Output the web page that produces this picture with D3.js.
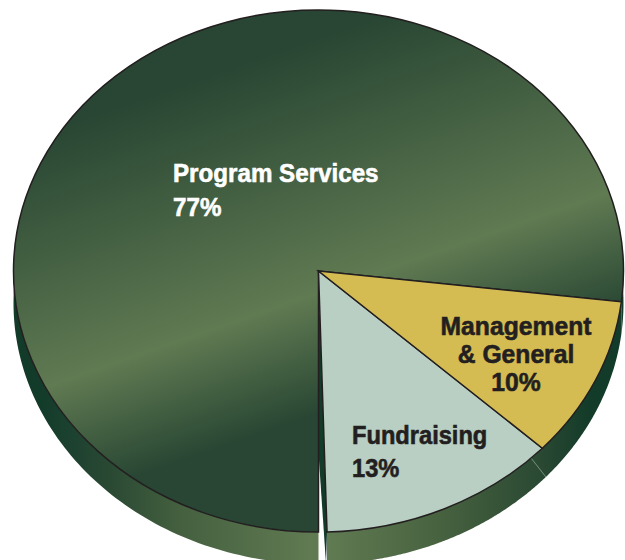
<!DOCTYPE html>
<html>
<head>
<meta charset="utf-8">
<script src="https://cdnjs.cloudflare.com/ajax/libs/d3/7.8.5/d3.min.js"></script>
<style>
html,body{margin:0;padding:0;background:#fff;overflow:hidden}
text{font-family:"Liberation Sans",Arimo,sans-serif;font-weight:700;font-size:26px}
</style>
</head>
<body>
<svg id="chart" width="625" height="560"></svg>
<script>
// Expense shares, listed clockwise starting from the right-hand side of the pie
const categories = ["Management & General", "Fundraising", "Program Services"];
const shares = [10, 13, 77];
const sliceFills = ["#d4bb52", "#b9cfc3", "url(#topSheenLocal)"];
const labelLines = [["Management", "& General", "10%"], ["Fundraising", "13%"], ["Program Services", "77%"]];
const labelColors = ["#231f20", "#231f20", "#ffffff"];
const labelAnchors = ["middle", "start", "start"];
const labelSpots = [[516, 335], [352, 444], [173, 182]];
const lineGap = [28, 33, 34];
const labelSqueeze = [0.95, 0.91, 0.93];

const cx = 318.5, cy = 271, rx = 305, ry = 261, depth = 32;
const deg = Math.PI / 180;
const firstAngle = 96.8 * deg;

const svg = d3.select("#chart");
const defs = svg.append("defs");

// Diagonal sheen across the large slice
const darkGreen = "#284633", lightGreen = "#607a52";
defs.append("linearGradient").attr("id", "topSheen").attr("gradientUnits", "userSpaceOnUse")
  .attr("x1", 45).attr("y1", 132).attr("x2", 161).attr("y2", 468)
  .selectAll("stop").data([[0, darkGreen], [0.68, lightGreen], [1, darkGreen]]).join("stop")
  .attr("offset", d => d[0]).attr("stop-color", d => d[1]);
defs.append("linearGradient").attr("id", "topSheenLocal").attr("href", "#topSheen")
  .attr("gradientTransform", `scale(${1 / rx},${1 / ry}) translate(${-cx},${-cy})`);

// Horizontal shading around the rim
defs.append("linearGradient").attr("id", "wallSheen")
  .attr("gradientUnits", "userSpaceOnUse").attr("x1", -cx).attr("y1", 0).attr("x2", 625 - cx).attr("y2", 0)
  .selectAll("stop")
  .data([[40, "#133b29"], [70, "#1c4130"], [110, "#2a4933"], [180, "#44603f"], [310, "#607a52"],
    [328, "#607a52"], [440, "#47623f"], [540, "#2a4933"], [590, "#133b29"], [625, "#133b29"]])
  .join("stop")
  .attr("offset", d => d[0] / 625).attr("stop-color", d => d[1]);

const pie = d3.pie().sort(null).startAngle(firstAngle).endAngle(firstAngle + 2 * Math.PI);
const slices = pie(shares);
// The Fundraising wedge is pulled apart from Program Services by a thin gap
slices[1].endAngle -= 1.2 * deg;
slices[2].startAngle += 0.4 * deg;

const rimX = a => rx * Math.sin(a), rimY = a => -ry * Math.cos(a);
const arc = d3.arc().innerRadius(0).outerRadius(1);
const plate = svg.append("g").attr("transform", `translate(${cx},${cy})`);

// Side walls sampled along the outer edge; the two small slices share one unbroken wall
const wallPath = d3.line();
[[slices[0].startAngle, slices[1].endAngle], [slices[2].startAngle, slices[2].endAngle]].forEach(([a0, a1]) => {
  const angles = d3.range(0, 241).map(i => a0 + (a1 - a0) * i / 240);
  const pts = angles.map(a => [rimX(a), rimY(a)])
    .concat(angles.slice().reverse().map(a => [rimX(a), rimY(a) + depth]));
  plate.append("path").attr("d", wallPath(pts) + "Z").attr("fill", "url(#wallSheen)");
});

// Inner face seen through the gap beside the Fundraising wedge
const gapAngle = slices[1].endAngle;
plate.append("path")
  .attr("d", wallPath([[0, 0], [rimX(gapAngle), rimY(gapAngle)],
    [rimX(gapAngle) - 1, rimY(gapAngle) + depth], [rimX(slices[2].startAngle), 182]]) + "Z")
  .attr("fill", "#133b29");

// Crease on the wall where the two lower slices meet
plate.append("line")
  .attr("x1", rimX(slices[0].endAngle + 3 * deg)).attr("y1", rimY(slices[0].endAngle + 3 * deg))
  .attr("x2", rimX(slices[0].endAngle - 1 * deg)).attr("y2", rimY(slices[0].endAngle - 1 * deg) + depth)
  .attr("stroke", "#8aa38f").attr("stroke-width", 0.8);

// Top faces: unit arcs squashed into the ellipse
plate.selectAll("path.top").data(slices.map((s, i) => ({s, i})).reverse()).join("path")
  .attr("class", "top")
  .attr("data-category", d => categories[d.i])
  .attr("transform", `scale(${rx},${ry})`)
  .attr("d", d => arc({startAngle: d.s.startAngle, endAngle: d.s.endAngle}))
  .attr("fill", d => sliceFills[d.i])
  .attr("stroke", "#231f20").attr("stroke-width", 1.5)
  .attr("vector-effect", "non-scaling-stroke");

// Labels, condensed horizontally and slightly thickened
labelLines.forEach((lines, i) => {
  const t = svg.append("text")
    .attr("transform", `translate(${labelSpots[i][0]},${labelSpots[i][1]}) scale(${labelSqueeze[i]},1)`)
    .attr("fill", labelColors[i]).attr("stroke", labelColors[i]).attr("stroke-width", 0.6)
    .attr("text-anchor", labelAnchors[i]);
  lines.forEach((line, j) => t.append("tspan")
    .attr("x", 0).attr("y", j * lineGap[i]).text(line));
});
</script>
</body>
</html>
